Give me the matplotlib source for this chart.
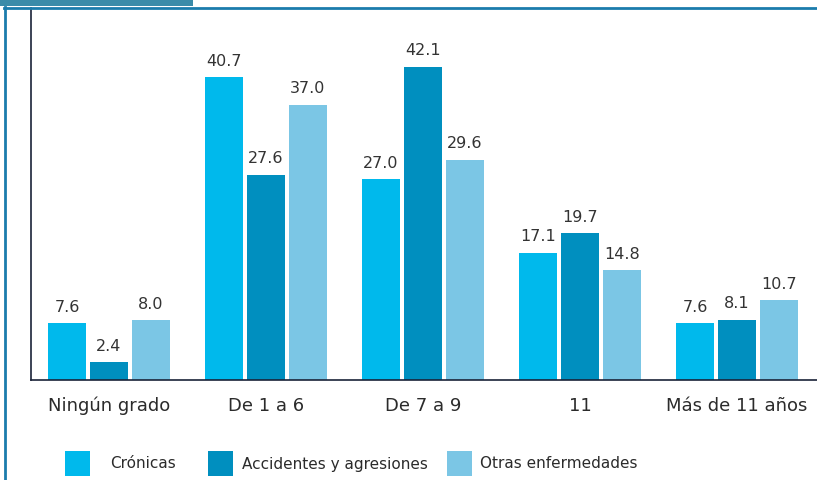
import matplotlib
matplotlib.use("Agg")
import matplotlib.pyplot as plt
from matplotlib.patches import Rectangle
from matplotlib.lines import Line2D
import numpy as np

# Años de escolaridad por grupo de causa
categories = ["Ningún grado", "De 1 a 6", "De 7 a 9", "11", "Más de 11 años"]
series_names = ["Crónicas", "Accidentes y agresiones", "Otras enfermedades"]
cronicas = [7.6, 40.7, 27.0, 17.1, 7.6]
accidentes = [2.4, 27.6, 42.1, 19.7, 8.1]
otras = [8.0, 37.0, 29.6, 14.8, 10.7]

colors = ["#00b9ec", "#008fbf", "#7bc6e5"]
frame_color = "#1b7cac"
text_color = "#2b2b2b"

plt.rcParams["font.family"] = ["DejaVu Sans"]

fig = plt.figure(figsize=(8.17, 4.8), dpi=100)
W, H = 817, 480

ax = fig.add_axes([31 / W, 100 / H, 786 / W, 372 / H])

x = np.arange(len(categories))
width = 0.242
step = 0.2675
for i, (vals, c) in enumerate(zip([cronicas, accidentes, otras], colors)):
    bars = ax.bar(x + (i - 1) * step, vals, width=width, color=c, zorder=2)
    for b, v in zip(bars, vals):
        ax.annotate(f"{v:.1f}", (b.get_x() + b.get_width() / 2, v),
                    xytext=(0, 6), textcoords="offset points",
                    ha="center", va="bottom", fontsize=11.5, color="#333333")

ax.set_xlim(-0.497, 4.51)
ax.set_ylim(0, 50)
ax.set_yticks([])
ax.set_xticks(x)
ax.set_xticklabels(categories, fontsize=13, color=text_color)
ax.tick_params(axis="x", length=0, pad=12)
for side in ["top", "right"]:
    ax.spines[side].set_visible(False)
ax.spines["left"].set_color("#1a2238")
ax.spines["bottom"].set_color("#1a2238")
ax.spines["left"].set_linewidth(1.2)
ax.spines["bottom"].set_linewidth(1.2)

# marco del recuadro
fig.add_artist(Rectangle((0, 474 / H), 193 / W, 6 / H, transform=fig.transFigure,
                         color="#3a8ba9", lw=0))
fig.add_artist(Line2D([4 / W, 1], [472 / H, 472 / H], transform=fig.transFigure,
                      color=frame_color, lw=2))
fig.add_artist(Line2D([5 / W, 5 / W], [0, 473 / H], transform=fig.transFigure,
                      color=frame_color, lw=2))

# leyenda
legend_x = [65, 208, 447]
text_x = [110, 242, 480]
for name, c, sx, tx in zip(series_names, colors, legend_x, text_x):
    fig.add_artist(Rectangle((sx / W, 4 / H), 25 / W, 25 / H,
                             transform=fig.transFigure, color=c, lw=0))
    fig.text(tx / W, 16 / H, name, fontsize=11, color=text_color, va="center")

fig.savefig("out.png", dpi=100)
